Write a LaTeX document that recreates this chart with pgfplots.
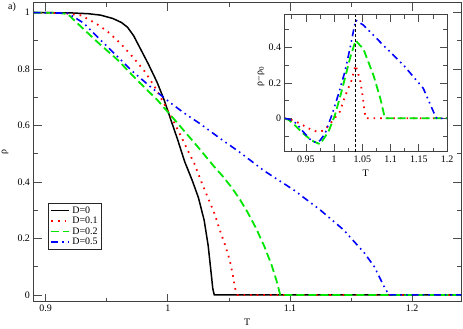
\documentclass[border=0pt]{standalone}
\usepackage{fontspec}
\setmainfont{Liberation Serif}
\usepackage{pgfplots}
\pgfplotsset{compat=1.18}
\definecolor{cred}{RGB}{255,0,0}
\definecolor{cgreen}{RGB}{0,230,0}
\definecolor{cblue}{RGB}{0,0,255}
\pgfplotsset{
  common/.style={
    scale only axis,
    tick align=inside,
    major tick length=8bp, minor tick length=4bp,
    every tick/.style={black!70, line width=0.8bp},
    axis line style={black!75, line width=1bp},
    tick label style={font=\fontsize{10}{12}\selectfont},
    label style={font=\fontsize{10}{12}\selectfont},
    /pgf/number format/assume math mode=true,
  },
  sblack/.style={black, line width=1.5bp},
  sred/.style={cred, line width=1.8bp, dash pattern=on 1.6bp off 5bp},
  sgreen/.style={cgreen, line width=1.8bp, dash pattern=on 8bp off 4bp},
  sblue/.style={cblue, line width=1.6bp, dash pattern=on 7bp off 4bp on 1.6bp off 4bp on 1.6bp off 4bp},
}
\begin{document}
\begin{tikzpicture}
\useasboundingbox (-33.5bp,-27.3bp) rectangle (429.5bp,301.7bp);
\begin{axis}[common,
  width=427.5bp, height=298.7bp,
  xmin=0.89, xmax=1.24, ymin=-0.024, ymax=1.034,
  xtick={0.9,1,1.1,1.2}, minor xtick={0.95,1.05,1.15},
  ytick={0,0.2,0.4,0.6,0.8,1}, minor ytick={0.1,0.3,0.5,0.7,0.9},
  xlabel={T}, ylabel={ρ},
  xlabel style={at={(axis description cs:0.5,-0.0703)}, anchor=center},
  ylabel style={at={(axis description cs:-0.0667,0.5)}, anchor=center},
  legend style={at={(0.0346,0.329)}, anchor=north west, draw=black!85, line width=0.6bp,
    font=\fontsize{10}{12}\selectfont, inner xsep=2bp, inner ysep=1.5bp,
    nodes={inner ysep=1.2bp}, cells={anchor=west}},
  legend image code/.code={\draw[#1] (0bp,0bp) -- (18bp,0bp);},
]
\addplot[sblack] coordinates {
(0.89,1.0) (0.92,0.999) (0.935,0.996) (0.945,0.991) (0.955,0.979) (0.962,0.965)
(0.967,0.948) (0.972,0.918) (0.978,0.868) (0.984,0.818) (0.989,0.773) (0.9915,0.75)
(0.997,0.69) (1.0035,0.607) (1.008,0.55) (1.0137,0.473) (1.02,0.405) (1.025,0.345)
(1.0297,0.265) (1.033,0.175) (1.0355,0.075) (1.0368,0.022) (1.038,0) (1.24,0)};
\addlegendentry{D=0}
\addplot[sred] coordinates {
(0.89,1.0) (0.915,0.998) (0.929,0.99) (0.941,0.962) (0.9506,0.933) (0.961,0.892)
(0.972,0.839) (0.981,0.792) (0.989,0.739) (0.997,0.677) (1.004,0.62) (1.011,0.56)
(1.0165,0.51) (1.0216,0.466) (1.0275,0.4) (1.0336,0.336) (1.038,0.29) (1.043,0.224)
(1.047,0.175) (1.0506,0.124) (1.053,0.075) (1.055,0.024) (1.057,0) (1.24,0)};
\addlegendentry{D=0.1}
\addplot[sgreen] coordinates {
(0.89,1.0) (0.91,0.999) (0.918,0.995) (0.926,0.962) (0.942,0.897) (0.959,0.832)
(0.975,0.76) (0.9915,0.69) (1.008,0.608) (1.0244,0.525) (1.038,0.454) (1.045,0.42)
(1.052,0.382) (1.059,0.338) (1.065,0.295) (1.072,0.238) (1.079,0.172) (1.085,0.105)
(1.089,0.05) (1.092,0) (1.24,0)};
\addlegendentry{D=0.2}
\addplot[sblue] coordinates {
(0.89,1.0) (0.918,0.998) (0.931,0.963) (0.942,0.915) (0.956,0.856) (0.9697,0.797)
(0.9858,0.737) (1.0022,0.68) (1.0131,0.645) (1.0268,0.605) (1.0432,0.553) (1.0596,0.503)
(1.0787,0.44) (1.103,0.372) (1.125,0.30) (1.144,0.23) (1.161,0.148) (1.169,0.10)
(1.177,0.03) (1.181,0) (1.24,0)};
\addlegendentry{D=0.5}
\end{axis}
\node[font=\fontsize{10}{12}\selectfont] at (-21.5bp,294.7bp) {a)};
\begin{axis}[common,
  at={(251bp,149.7bp)}, anchor=south west,
  width=162.5bp, height=137.3bp,
  axis background/.style={fill=white},
  xmin=0.912, xmax=1.2, ymin=-0.19, ymax=0.585,
  xtick={0.95,1,1.05,1.1,1.15,1.2}, minor xtick={0.925,0.975,1.025,1.075,1.125,1.175},
  ytick={0,0.2,0.4}, minor ytick={-0.1,0.1,0.3,0.5},
  major tick length=7.5bp,
  xlabel={T}, ylabel={ρ−ρ\textsubscript{0}},
  xlabel style={at={(axis description cs:0.5,-0.153)}, anchor=center},
  ylabel style={at={(axis description cs:-0.1446,0.55)}, anchor=center},
]
\addplot[sred] coordinates {
(0.912,0) (0.925,-0.01) (0.939,-0.028) (0.954,-0.056) (0.969,-0.075) (0.981,-0.07)
(0.989,-0.045) (0.996,-0.019) (1.01,0.037) (1.019,0.122) (1.031,0.216) (1.038,0.30)
(1.046,0.216) (1.0506,0.124) (1.054,0.037) (1.056,0) (1.2,0)};
\addplot[sgreen] coordinates {
(0.912,0) (0.92,-0.01) (0.93,-0.038) (0.945,-0.085) (0.96,-0.125) (0.975,-0.146)
(0.99,-0.075) (1.0015,0.019) (1.013,0.15) (1.028,0.338) (1.038,0.44) (1.052,0.39)
(1.07,0.24) (1.082,0.11) (1.09,0) (1.2,0)};
\addplot[sblue] coordinates {
(0.912,0) (0.92,-0.005) (0.933,-0.028) (0.945,-0.075) (0.96,-0.128) (0.968,-0.137)
(0.975,-0.125) (0.984,-0.085) (0.996,0.019) (1.007,0.13) (1.019,0.263) (1.028,0.394)
(1.038,0.554) (1.052,0.526) (1.087,0.413) (1.123,0.30) (1.158,0.169) (1.176,0.037)
(1.182,0) (1.2,0)};
\addplot[black, line width=1bp, dash pattern=on 3bp off 2bp] coordinates {(1.038,-0.19) (1.038,0.585)};
\end{axis}
\end{tikzpicture}
\end{document}
